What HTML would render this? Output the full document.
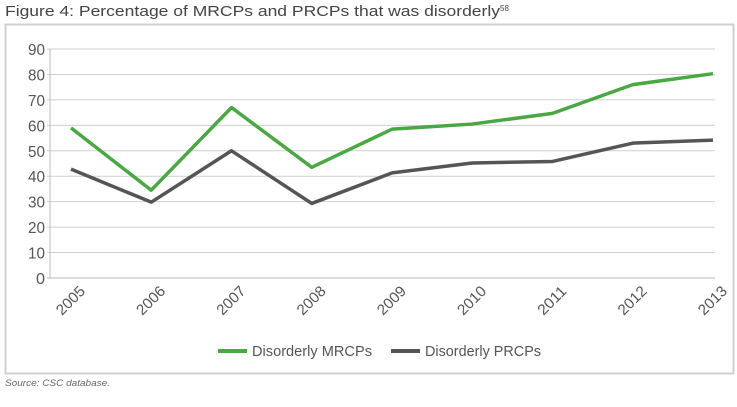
<!DOCTYPE html>
<html><head><meta charset="utf-8"><style>
body{margin:0;background:#fff;width:737px;height:402px;overflow:hidden;font-family:"Liberation Sans",sans-serif}
</style></head><body>
<svg width="737" height="402" xmlns="http://www.w3.org/2000/svg">
<text x="5" y="16" font-size="15" fill="#444"><tspan textLength="495" lengthAdjust="spacingAndGlyphs">Figure 4: Percentage of MRCPs and PRCPs that was disorderly</tspan><tspan font-size="8" dy="-5">58</tspan></text>
<rect x="5.5" y="24.5" width="728" height="349" fill="#fff" stroke="#d0d0d0" stroke-width="2"/>
<g id="grid"></g>
<g id="series"></g>
<g id="legend">
<rect x="218" y="349" width="29" height="4" fill="#4aa844"/>
<text x="252" y="356" font-size="15" fill="#555" textLength="120" lengthAdjust="spacingAndGlyphs">Disorderly MRCPs</text>
<rect x="391" y="349" width="29" height="4" fill="#555"/>
<text x="425" y="356" font-size="15" fill="#555" textLength="116" lengthAdjust="spacingAndGlyphs">Disorderly PRCPs</text>
</g>
<text x="5" y="386" font-size="9.5" font-style="italic" fill="#666" textLength="105" lengthAdjust="spacingAndGlyphs">Source: CSC database.</text>
</svg>
<script>
const years=["2005","2006","2007","2008","2009","2010","2011","2012","2013"];
const mrcps=[59,34.5,67,43.5,58.5,60.5,64.7,76,80.3];
const prcps=[42.8,29.8,50,29.3,41.3,45.2,45.8,53,54.2];
const yTicks=[0,10,20,30,40,50,60,70,80,90];
const NS="http://www.w3.org/2000/svg";
const x0=71,x1=713,yTop=49,yBot=278,yMax=90,left=50,right=715;
const xs=i=>x0+(x1-x0)*i/(years.length-1);
const ys=v=>yBot-(yBot-yTop)*v/yMax;
const grid=document.getElementById('grid'),ser=document.getElementById('series');
function mk(tag,attrs,parent){const e=document.createElementNS(NS,tag);for(const k in attrs)e.setAttribute(k,attrs[k]);parent.appendChild(e);return e;}
yTicks.forEach(t=>{
  const y=ys(t);
  const l=mk('line',{x1:left-3,x2:right,y1:y,y2:y,stroke:t===0?'#bbb':'#cfcfcf','stroke-width':1},grid);
  
  
  const tx=mk('text',{x:left-5,y:y+6,'font-size':16,fill:'#555','text-anchor':'end',textLength:t===0?9:17,lengthAdjust:'spacingAndGlyphs'},grid);
  tx.textContent=t;
  
  
});
const ax=mk('line',{x1:left,x2:left,y1:yTop,y2:yBot,stroke:'#bbb'},grid);


years.forEach((yr,i)=>{
  const x=xs(i)+15,y=yBot+14;
  const t=mk('text',{x:x,y:y,'font-size':15,fill:'#555','text-anchor':'end',textLength:34,lengthAdjust:'spacingAndGlyphs',transform:`rotate(-45 ${x} ${y})`},grid);
  t.textContent=yr;
  
  
});
function line(data,color,name){
  const p=mk('polyline',{points:data.map((v,i)=>xs(i)+','+ys(v)).join(' '),fill:'none',stroke:color,'stroke-width':3.5,'stroke-linejoin':'round'},ser);
  
  
}
line(prcps,'#555','line-disorderly-prcps');
line(mrcps,'#4aa844','line-disorderly-mrcps');
</script>
</body></html>
